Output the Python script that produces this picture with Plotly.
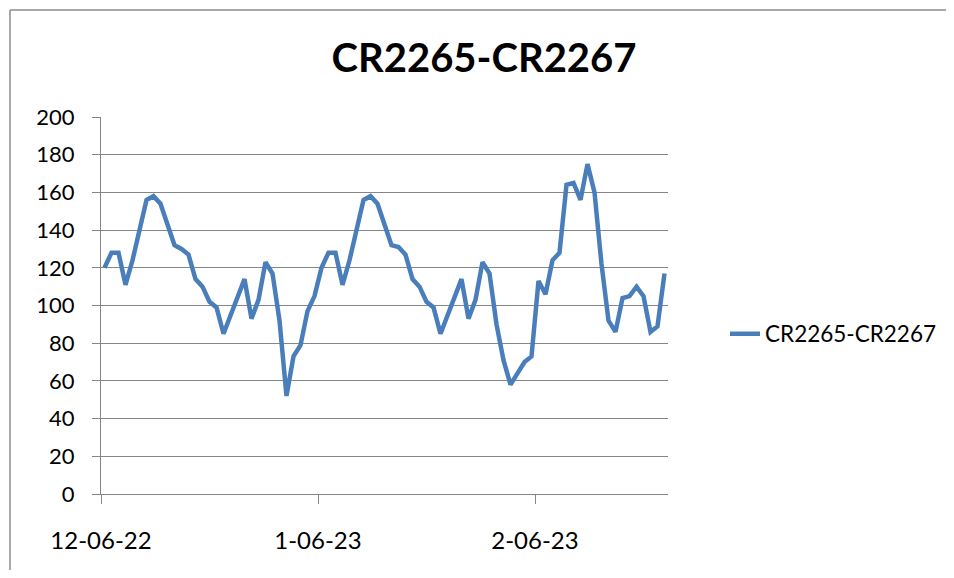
import plotly.graph_objects as go
import pandas as pd

# ---- data ----
start_date = "2022-12-06"
spread_values = [
    120, 128, 128, 111, 124, 140, 156, 158, 154, 143,
    132, 130, 127, 114, 110, 102, 99, 85, 95, 105,
    114, 93, 103, 123, 117, 92, 52, 73, 79, 97,
    105, 120, 128, 128, 111, 124, 140, 156, 158, 154,
    143, 132, 131, 127, 114, 110, 102, 99, 85, 95,
    105, 114, 93, 103, 123, 117, 90, 71, 58, 64,
    70, 73, 113, 106, 124, 128, 164, 165, 156, 175,
    160, 122, 92, 86, 104, 105, 110, 105, 86, 89,
    117,
]
series_name = "CR2265-CR2267"
x_tick_dates = ["2022-12-05 12:00", "2023-01-05 12:00", "2023-02-05 12:00"]
x_tick_labels = ["12-06-22", "1-06-23", "2-06-23"]
y_ticks = [0, 20, 40, 60, 80, 100, 120, 140, 160, 180, 200]

dates = pd.date_range(start_date, periods=len(spread_values), freq="D")

FONT = "Lato"
GRID = "#868686"
OFF = 8  # page body margin offset
W, H = 954 - 2 * OFF, 578 - 2 * OFF  # fit inside the page without scrollbars

fig = go.Figure()
fig.add_trace(go.Scatter(
    x=dates, y=spread_values, mode="lines", name=series_name,
    line=dict(color="#4A7EBB", width=4.5, shape="linear"),
))

fig.update_layout(
    width=W, height=H,
    paper_bgcolor="white", plot_bgcolor="white",
    margin=dict(l=101-OFF, r=(OFF + W) - 668, t=117-OFF, b=(OFF + H) - 494, pad=0),
    title=dict(text="<b>CR2265-CR2267</b>", x=(484-OFF)/W, xanchor="center",
               xref="container", y=1-(58-OFF)/H, yref="container", yanchor="middle",
               font=dict(family=FONT, size=40, color="black")),
    showlegend=True,
    legend=dict(xref="container", yref="container", x=(725-OFF)/W, y=1-(334-OFF)/H,
                xanchor="left", yanchor="middle",
                font=dict(family=FONT, size=22.5, color="black"),
                bgcolor="rgba(0,0,0,0)"),
    font=dict(family=FONT, size=22, color="black"),
)

fig.update_xaxes(
    type="date",
    range=["2022-12-05 12:00", "2023-02-24 12:00"],
    tickmode="array", tickvals=x_tick_dates, ticktext=x_tick_labels,
    ticks="outside", ticklen=9, tickwidth=1.3, tickcolor=GRID,
    showline=True, linecolor=GRID, linewidth=1.3,
    showgrid=False, zeroline=False,
    tickfont=dict(family=FONT, size=24, color="black"),
    ticklabelstandoff=16,
)
fig.update_yaxes(
    range=[0, 200],
    tickmode="array", tickvals=y_ticks,
    ticks="outside", ticklen=8, tickwidth=1.3, tickcolor=GRID,
    showline=True, linecolor=GRID, linewidth=1.3,
    showgrid=True, gridcolor=GRID, gridwidth=1.3,
    zeroline=False,
    tickfont=dict(family=FONT, size=22, color="black"),
    ticklabelstandoff=13,
)

# outer chart border (left and top edges only)
bx = (10 - 101) / 567
by = (494 - 10) / 377
fig.add_shape(type="line", xref="paper", yref="paper",
              x0=bx, x1=bx, y0=-0.5, y1=by,
              line=dict(color="#8C8C8C", width=1.5), layer="below")
fig.add_shape(type="line", xref="paper", yref="paper",
              x0=bx, x1=1.7, y0=by, y1=by,
              line=dict(color="#8C8C8C", width=1.5), layer="below")

fig.write_html("out.html")
